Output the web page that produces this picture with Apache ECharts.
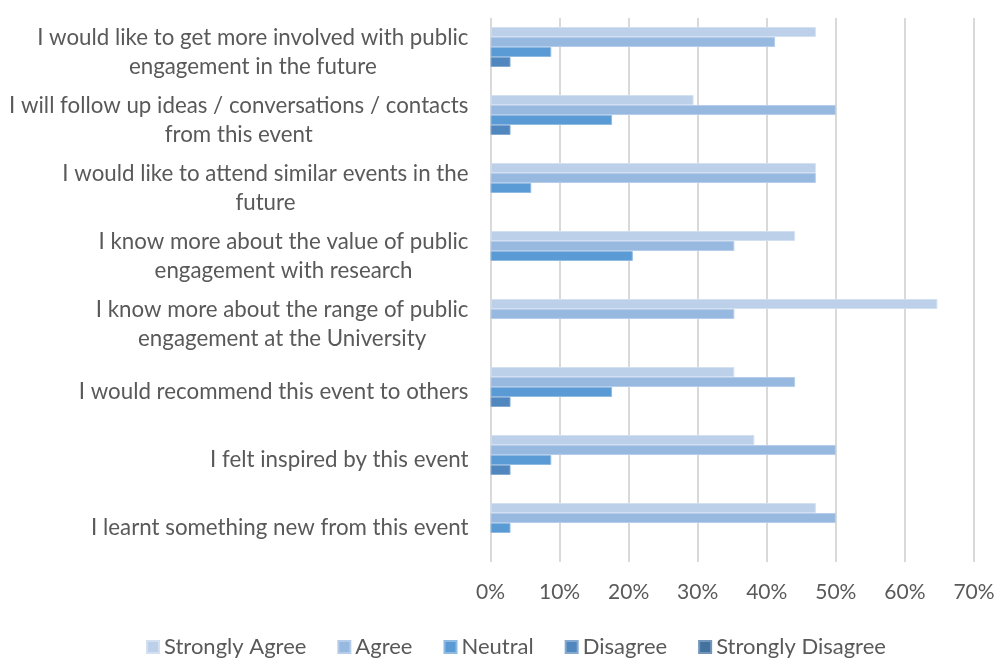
<!DOCTYPE html>
<html>
<head>
<meta charset="utf-8">
<script src="https://cdn.jsdelivr.net/npm/echarts@6/dist/echarts.min.js"></script>
<style>
  html, body { margin: 0; padding: 0; background: #ffffff; }
  #chart { width: 1001px; height: 658px; }
</style>
</head>
<body>
<div id="chart"></div>
<script>
// Survey statements, top to bottom (line breaks as they are set on the axis)
const categories = [
  'I would like to get more involved with public\nengagement in the future',
  'I will follow up ideas / conversations / contacts\nfrom this event',
  'I would like to attend similar events in the\nfuture',
  'I know more about the value of public\nengagement with research',
  'I know more about the range of public\nengagement at the University',
  'I would recommend this event to others',
  'I felt inspired by this event',
  'I learnt something new from this event'
];

const seriesNames = ['Strongly Agree', 'Agree', 'Neutral', 'Disagree', 'Strongly Disagree'];

// Share of respondents (%) per statement, same order as categories
const stronglyAgree    = [47.1, 29.4, 47.1, 44.1, 64.7, 35.3, 38.2, 47.1];
const agree            = [41.2, 50.0, 47.1, 35.3, 35.3, 44.1, 50.0, 50.0];
const neutral          = [8.8, 17.6, 5.9, 20.6, 0, 17.6, 8.8, 2.9];
const disagree         = [2.9, 2.9, 0, 0, 0, 2.9, 2.9, 0];
const stronglyDisagree = [0, 0, 0, 0, 0, 0, 0, 0];

const xTicks = [0, 10, 20, 30, 40, 50, 60, 70];

const colors = ['#bdd0ea', '#97b9e0', '#5b9bd5', '#5087be', '#43729e'];
const borders = ['#d3e0f2', '#b5cdea', '#8fbbe3', '#85a9cf', '#7195bb'];

const FONT = 'Lato, "Open Sans", sans-serif';
const TEXT = '#595959';

const values = [stronglyAgree, agree, neutral, disagree, stronglyDisagree];

// Zero-length bars get no outline so nothing is drawn for them
const barData = arr => arr.map(v => v === 0
  ? { value: 0, itemStyle: { borderWidth: 0 } }
  : { value: v });

const chart = echarts.init(document.getElementById('chart'), null, { renderer: 'canvas' });

chart.setOption({
  backgroundColor: '#ffffff',
  animation: false,
  color: colors,
  grid: { left: 490.5, right: 27, top: 18, bottom: 96, containLabel: false },
  legend: {
    top: 632,
    left: 146,
    itemWidth: 12,
    itemHeight: 12,
    itemGap: 31,
    icon: 'rect',
    padding: 0,
    textStyle: { color: TEXT, fontFamily: FONT, fontSize: 22, lineHeight: 30 },
    data: seriesNames
  },
  xAxis: {
    type: 'value',
    min: xTicks[0],
    max: xTicks[xTicks.length - 1],
    interval: 10,
    axisLine: { show: false },
    axisTick: { show: false },
    axisLabel: {
      color: TEXT, fontFamily: FONT, fontSize: 21, margin: 20,
      formatter: v => v + '%'
    },
    splitLine: { show: true, lineStyle: { color: '#d9d9d9', width: 2 } }
  },
  yAxis: {
    type: 'category',
    inverse: true,
    data: categories,
    axisLine: { show: false },
    axisTick: { show: false },
    axisLabel: {
      margin: 22,
      align: 'right',
      lineHeight: 29,
      formatter: v => v.split('\n').map(s => '{c|' + s + '}').join('\n'),
      rich: {
        c: { align: 'center', color: TEXT, fontFamily: FONT, fontSize: 22.3, lineHeight: 29 }
      }
    }
  },
  series: seriesNames.map((name, i) => ({
    name,
    type: 'bar',
    data: barData(values[i]),
    barGap: '0%',
    barCategoryGap: '26.5%',
    itemStyle: { color: colors[i], borderColor: borders[i], borderWidth: 1 }
  }))
});
</script>
</body>
</html>
